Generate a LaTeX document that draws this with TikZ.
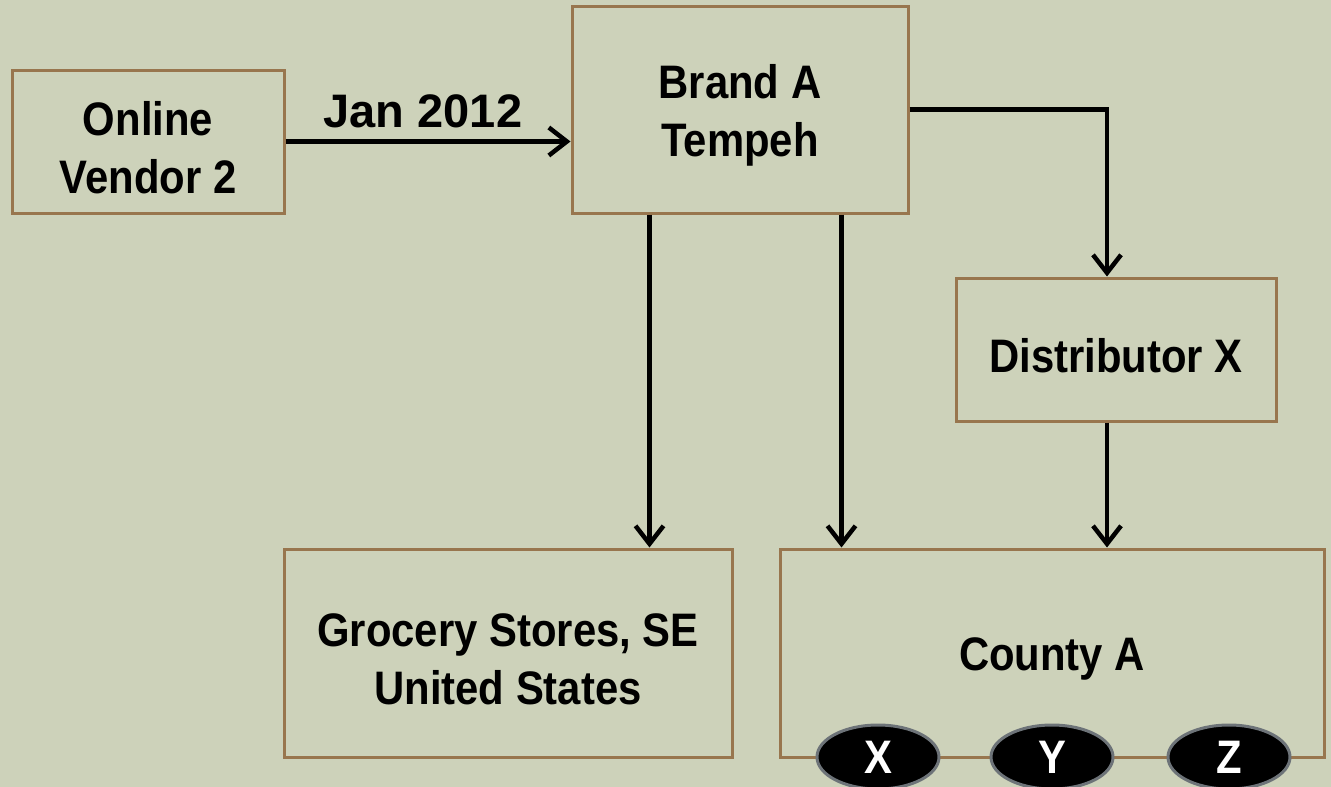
\documentclass[tikz,border=0pt]{standalone}
\usepackage{fontspec}
\setmainfont{Liberation Sans}[FakeStretch=0.89]
\newfontfamily\labelfamily{Liberation Sans}
\usetikzlibrary{arrows.meta,shapes.geometric,calc}
\definecolor{bgcol}{HTML}{CDD2BA}
\definecolor{boxline}{HTML}{98764E}
\definecolor{ovalline}{HTML}{6D7378}
\begin{document}
\begin{tikzpicture}[x=1pt,y=-1pt,
  bigfont/.style={font=\fontsize{47}{58}\selectfont\bfseries},
  box/.style={draw=boxline,line width=3pt,fill=bgcol,inner sep=0pt},
  boxtext/.style={label={[bigfont,align=center,yshift=-6pt]center:#1}},
  arr/.style={line width=4.5pt,-{Straight Barb[length=18pt,width=28pt,line width=4.5pt]}},
  oval/.style={ellipse,draw=ovalline,line width=3pt,fill=black,text=white,inner sep=0pt,
    minimum width=122pt,minimum height=64pt,bigfont}]
  \fill[bgcol] (0,0) rectangle (1331,787);
  \useasboundingbox (0,0) rectangle (1331,787);

  % boxes
  \node[box,minimum width=272pt,minimum height=143pt,boxtext={Online\\Vendor 2}] (vendor) at (148,141.5) {};
  \node[box,minimum width=336pt,minimum height=207pt,boxtext={Brand A\\Tempeh}] (brand) at (740,109.5) {};
  \node[box,minimum width=320pt,minimum height=143pt,boxtext={Distributor X}] (dist) at (1116,349.5) {};
  \node[box,minimum width=448pt,minimum height=208pt,boxtext={Grocery Stores, SE\\United States}] (grocery) at (508,653) {};
  \node[box,minimum width=544pt,minimum height=208pt,boxtext={County A}] (county) at (1052,653) {};

  % sub-areas of County A
  \node[oval] (ox) at (878,757) {X};
  \node[oval] (oy) at (1052,757) {Y};
  \node[oval] (oz) at (1229,757) {Z};

  % flows
  \draw[arr] (vendor.east) -- (vendor.east -| brand.west)
    node[midway,above=8pt,xshift=-5pt,font=\fontsize{47}{58}\labelfamily\bfseries] (jan) {Jan 2012};
  \draw[arr] ([xshift=79pt]brand.south west) coordinate (b1) -- (b1 |- grocery.north);
  \draw[arr] ([xshift=271pt]brand.south west) coordinate (b2) -- (b2 |- county.north);
  \draw[arr] (brand.east) -| ([xshift=-9pt]dist.north);
  \draw[arr] ([xshift=-9pt]dist.south) coordinate (d1) -- (d1 |- county.north);
\end{tikzpicture}
\end{document}
